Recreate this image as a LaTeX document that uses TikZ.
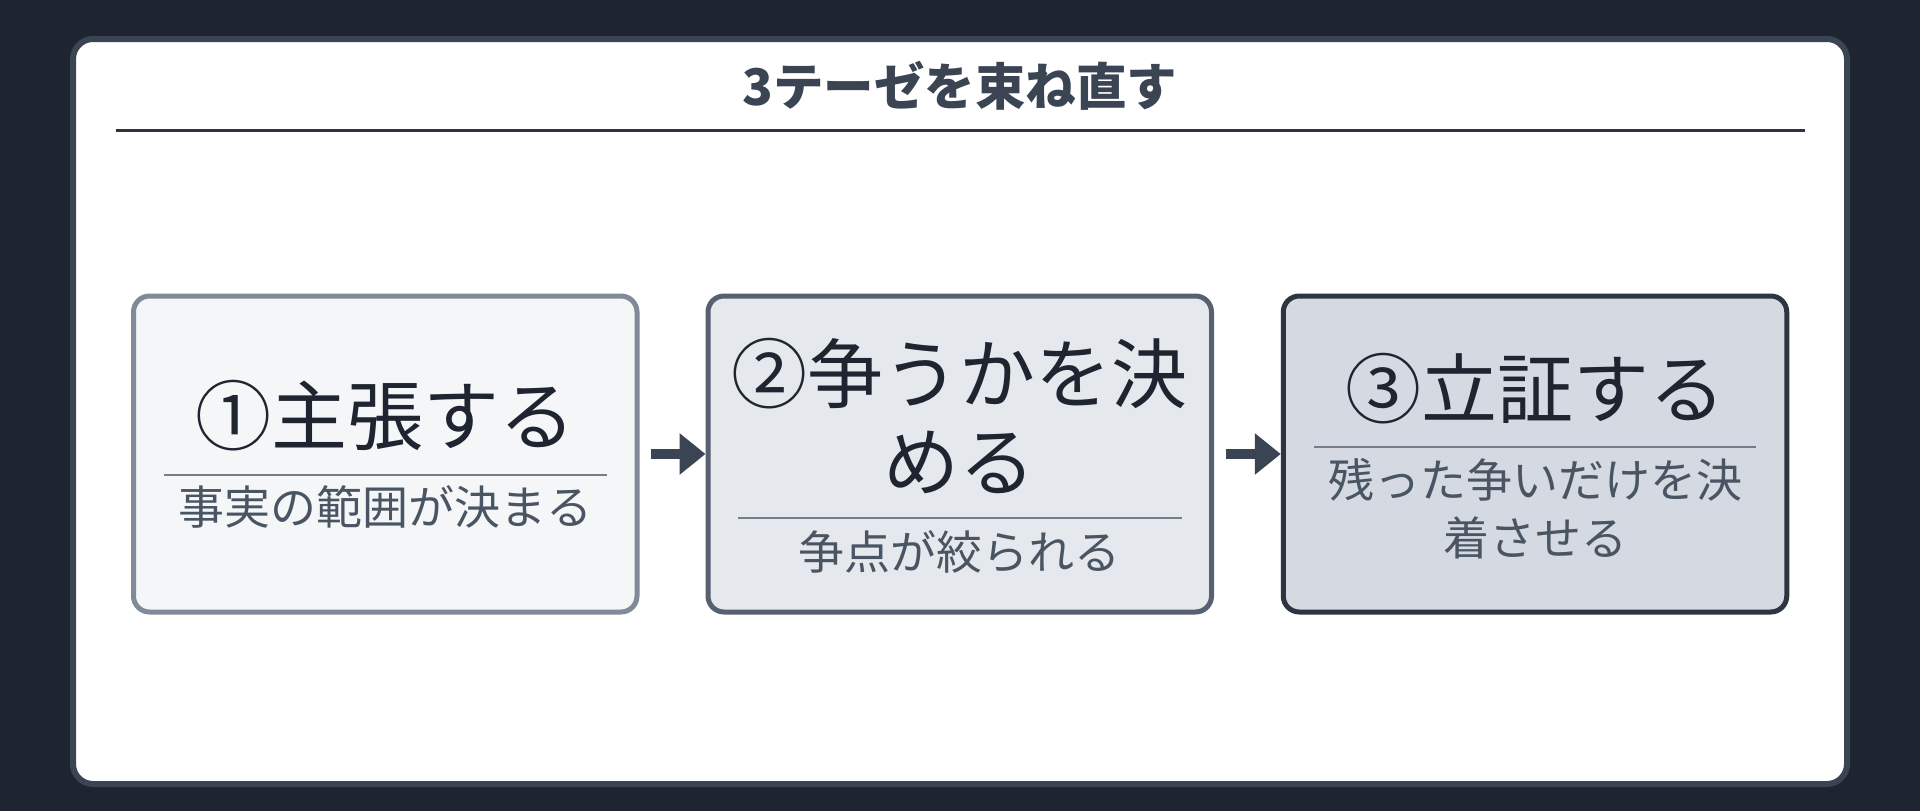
\documentclass[tikz,border=0pt]{standalone}
\usepackage{fontspec}
\newfontfamily\jp{Noto Sans CJK JP}
\usetikzlibrary{arrows.meta}
\definecolor{bg}{HTML}{1E2530}
\definecolor{cardline}{HTML}{3A4452}
\definecolor{titlecol}{HTML}{3A4452}
\definecolor{rulecol}{HTML}{2D3440}
\definecolor{fillA}{HTML}{F4F6F8}
\definecolor{lineA}{HTML}{808A98}
\definecolor{fillB}{HTML}{E5E8EC}
\definecolor{lineB}{HTML}{566070}
\definecolor{fillC}{HTML}{D5DAE2}
\definecolor{lineC}{HTML}{2D3541}
\definecolor{maincol}{HTML}{1E2530}
\definecolor{subcol}{HTML}{4A5563}
\definecolor{divcol}{HTML}{737D8B}
\definecolor{arrowcol}{HTML}{3A4452}
\tikzset{
  stagebox/.style={rectangle, rounded corners=16pt, line width=5pt, minimum width=503.5pt, minimum height=316pt, inner sep=0pt},
  maintext/.style={inner sep=0pt, text=maincol, align=center, font=\jp\fontsize{76}{88}\selectfont},
  subtext/.style={inner sep=0pt, text=subcol, align=center, font=\jp\fontsize{46}{57.5}\selectfont},
  divider/.style={draw=divcol, line width=2.5pt},
  flowarrow/.style={draw=arrowcol, line width=10pt, -{Triangle[length=26pt,width=40pt]}, arrowcol, shorten <=11.5pt}
}
\begin{document}
\begin{tikzpicture}[x=1pt,y=-1pt]
\fill[bg] (0,0) rectangle (1920,811);
\useasboundingbox (0,0) rectangle (1920,811);
% card
\draw[cardline, fill=white, line width=6pt, rounded corners=20pt] (73,39) rectangle (1847,784);
\node[inner sep=0pt, text=titlecol, font=\jp\bfseries\fontsize{50.5}{58}\selectfont] (title) at (960,86) {3テーゼを束ね直す};
\draw[rulecol, line width=3pt] (116,130.5) -- (1805,130.5);
% boxes
\node[stagebox, draw=lineA, fill=fillA] (b1) at (385.25,454) {};
\node[stagebox, draw=lineB, fill=fillB] (b2) at (959.75,454) {};
\node[stagebox, draw=lineC, fill=fillC] (b3) at (1535,454) {};
% box 1
\node[maintext] (m1) at (385.25,416) {①主張する};
\draw[divider] (163.5,475) -- (607,475);
\node[subtext] (s1) at (385.25,507) {事実の範囲が決まる};
% box 2
\node[maintext] (m2) at (959.75,416) {②争うかを決\\める};
\draw[divider] (738,518) -- (1181.5,518);
\node[subtext] (s2) at (959.75,552) {争点が絞られる};
% box 3
\node[maintext] (m3) at (1535,389) {③立証する};
\draw[divider] (1314,447) -- (1756,447);
\node[subtext] (s3) at (1535,508.5) {残った争いだけを決\\着させる};
% arrows
\draw[flowarrow] (b1.east) -- (b2.west);
\draw[flowarrow] (b2.east) -- (b3.west);
\end{tikzpicture}
\end{document}
